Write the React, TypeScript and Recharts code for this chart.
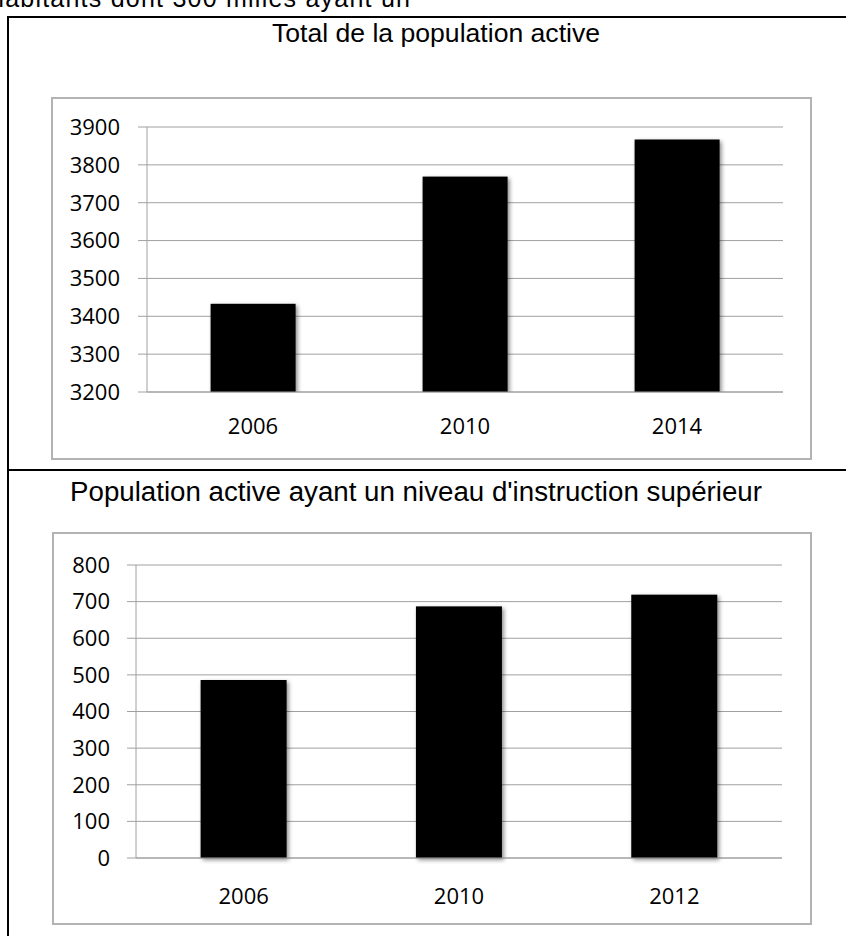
import React from "react";
import { BarChart, Bar, XAxis, YAxis, CartesianGrid } from "recharts";

// Total active population (thousands)
const totalYears = ["2006", "2010", "2014"];
const totalValues = [3433, 3769, 3867];
const totalTicks = [3200, 3300, 3400, 3500, 3600, 3700, 3800, 3900];

// Active population with higher education (thousands)
const higherYears = ["2006", "2010", "2012"];
const higherValues = [486, 687, 719];
const higherTicks = [0, 100, 200, 300, 400, 500, 600, 700, 800];

const introText = "habitants dont 300 milles ayant un";
const titleTotal = "Total de la population active";
const titleHigher = "Population active ayant un niveau d'instruction supérieur";

const totalData = totalYears.map((year, i) => ({ year, value: totalValues[i] }));
const higherData = higherYears.map((year, i) => ({ year, value: higherValues[i] }));

const GRID = "#a0a0a0";
const TICK_FONT = { fontFamily: "'Open Sans', sans-serif", fontSize: 22, fill: "#000" };
const TITLE_FONT = "'Liberation Sans', Arial, sans-serif";

const ShadowBar = (props: any) => {
  const { x, y, width, height } = props;
  if (height <= 0) return null;
  return <rect x={x} y={y} width={width} height={height} fill="#000" filter="url(#barShadow)" />;
};

const boxStyle = (left: number, top: number, width: number, height: number): React.CSSProperties => ({
  position: "absolute",
  left,
  top,
  width,
  height,
  boxSizing: "border-box",
  border: "2px solid #b3b3b3",
  background: "#fff",
});

export default function App() {
  return (
    <div
      style={{
        position: "absolute",
        left: 0,
        top: 0,
        width: 846,
        height: 936,
        overflow: "hidden",
        background: "#fff",
      }}
    >
      {/* page text and table rules */}
      <svg
        width={846}
        height={936}
        style={{ position: "absolute", left: 0, top: 0 }}
      >
        <defs>
          <filter id="barShadow" x="-20%" y="-20%" width="150%" height="150%">
            <feDropShadow dx={2} dy={2} stdDeviation={2} floodColor="#000" floodOpacity={0.45} />
          </filter>
        </defs>
        <text
          x={-10}
          y={7}
          fontFamily={TITLE_FONT}
          fontSize={25}
          textLength={420}
          lengthAdjust="spacing"
          fill="#000"
        >
          {introText}
        </text>
        <rect x={7} y={16} width={839} height={2} fill="#000" />
        <rect x={7} y={16} width={2} height={920} fill="#000" />
        <rect x={7} y={469} width={839} height={2} fill="#000" />
        <text
          x={272}
          y={42}
          fontFamily={TITLE_FONT}
          fontSize={26}
          textLength={328}
          lengthAdjust="spacingAndGlyphs"
          fill="#000"
        >
          {titleTotal}
        </text>
        <text
          x={70}
          y={501}
          fontFamily={TITLE_FONT}
          fontSize={27}
          textLength={692}
          lengthAdjust="spacingAndGlyphs"
          fill="#000"
        >
          {titleHigher}
        </text>
      </svg>

      {/* first chart */}
      <div style={boxStyle(51, 97, 761, 363)}>
        <BarChart
          width={757}
          height={359}
          data={totalData}
          margin={{ top: 28, right: 27, bottom: 0, left: 0 }}
          barCategoryGap="30%"
        >
          <CartesianGrid vertical={false} stroke={GRID} strokeWidth={1} />
          <XAxis
            dataKey="year"
            height={66}
            tickSize={0}
            tickMargin={26}
            axisLine={{ stroke: GRID }}
            tick={TICK_FONT}
          />
          <YAxis
            domain={[3200, 3900]}
            ticks={totalTicks}
            width={94}
            tickSize={9}
            tickMargin={18}
            axisLine={{ stroke: GRID }}
            tickLine={{ stroke: GRID }}
            tick={TICK_FONT}
            allowDataOverflow
          />
          <Bar dataKey="value" isAnimationActive={false} shape={ShadowBar} />
        </BarChart>
      </div>

      {/* second chart */}
      <div style={boxStyle(52, 532, 760, 393)}>
        <BarChart
          width={756}
          height={389}
          data={higherData}
          margin={{ top: 31, right: 28, bottom: 0, left: 0 }}
          barCategoryGap="30%"
        >
          <CartesianGrid vertical={false} stroke={GRID} strokeWidth={1} />
          <XAxis
            dataKey="year"
            height={65}
            tickSize={0}
            tickMargin={30}
            axisLine={{ stroke: GRID }}
            tick={TICK_FONT}
          />
          <YAxis
            domain={[0, 800]}
            ticks={higherTicks}
            width={82}
            tickSize={9}
            tickMargin={17}
            axisLine={{ stroke: GRID }}
            tickLine={{ stroke: GRID }}
            tick={TICK_FONT}
          />
          <Bar dataKey="value" isAnimationActive={false} shape={ShadowBar} />
        </BarChart>
      </div>
    </div>
  );
}
